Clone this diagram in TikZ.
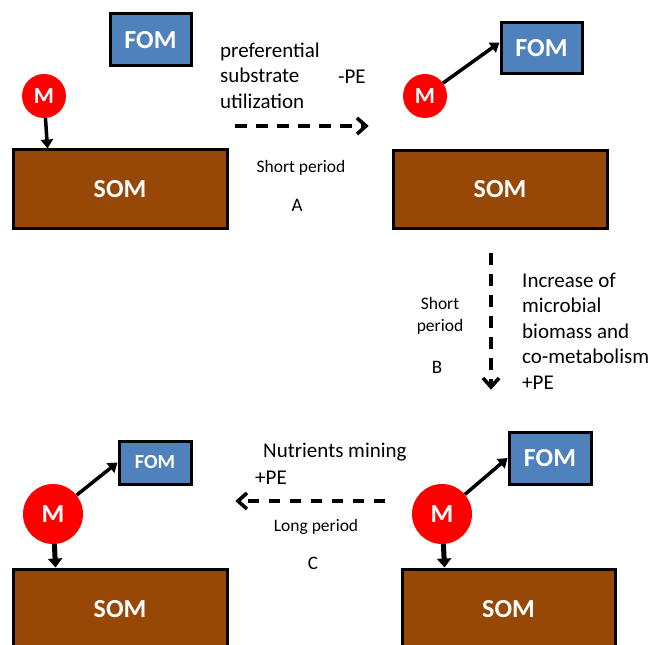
\documentclass[tikz,border=0pt]{standalone}
\usepackage{fontspec}
\setmainfont{Carlito}
\usetikzlibrary{arrows.meta,calc}
\definecolor{fomblue}{RGB}{79,129,189}
\definecolor{sombrown}{RGB}{151,71,6}
\definecolor{mred}{RGB}{255,0,0}
\tikzset{
  fombox/.style={draw=black,line width=3pt,fill=fomblue,text=white,font=\fontsize{26}{28}\selectfont\bfseries,inner sep=0pt},
  sombox/.style={draw=black,line width=3pt,fill=sombrown,text=white,font=\fontsize{26}{28}\selectfont\bfseries,inner sep=0pt,minimum width=214pt},
  mcirc/.style={circle,fill=mred,text=white,font=\fontsize{23}{26}\selectfont\bfseries,inner sep=0pt},
  solidarr/.style={line width=3.5pt,-{Triangle[length=9pt,width=12pt]}},
  thickarr/.style={line width=5pt,-{Triangle[length=9pt,width=14pt]}},
  dashline/.style={line width=3.6pt,dash pattern=on 11.5pt off 9.5pt},
  chevron/.style={solid,line width=3.6pt,line join=miter,miter limit=10},
  bodytxt/.style={font=\fontsize{21}{25.5}\selectfont,inner sep=0pt},
  smalltxt/.style={font=\fontsize{17.5}{22}\selectfont,inner sep=0pt},
  lettertxt/.style={font=\fontsize{19}{20}\selectfont,inner sep=0pt}
}
\begin{document}
\begin{tikzpicture}[x=1pt,y=-1pt]
\useasboundingbox (0,0) rectangle (652,644);
\fill[white] (0,0) rectangle (652,644);
\clip (0,0) rectangle (652,644);

% Panel A (top left)
\node[fombox,minimum width=81pt,minimum height=52pt] (ftl) at (150.5,40) {FOM};
\node[sombox,minimum height=78pt] (stl) at (120,189) {SOM};
\node[mcirc,minimum size=44pt] (mtl) at (44,96) {M};
\draw[solidarr] (mtl) -- ([xshift=36pt]stl.north west);

% Panel top right
\node[fombox,minimum width=81pt,minimum height=51pt] (ftr) at (541.5,48.5) {FOM};
\node[sombox,minimum height=77pt] (str) at (500,189.5) {SOM};
\node[mcirc,minimum size=44pt] (mtr) at (425,96) {M};
\draw[solidarr] (mtr) -- ([yshift=6pt]ftr.west);

% Panel bottom left
\node[fombox,minimum width=72pt,minimum height=43pt,font=\fontsize{20}{22}\selectfont\bfseries] (fbl) at (155,462.5) {FOM};
\node[sombox,minimum height=80pt] (sbl) at (120,609) {SOM};
\node[mcirc,minimum size=60pt,font=\fontsize{26}{28}\selectfont\bfseries] (mbl) at (53,514) {M};
\draw[solidarr] (mbl) -- (fbl.west);
\draw[thickarr] (mbl) -- ([xshift=44pt]sbl.north west);

% Panel bottom right
\node[fombox,minimum width=82pt,minimum height=52pt] (fbr) at (550,458) {FOM};
\node[sombox,minimum height=80pt,minimum width=213pt] (sbr) at (508.5,609) {SOM};
\node[mcirc,minimum size=60pt,font=\fontsize{26}{28}\selectfont\bfseries] (mbr) at (442,514) {M};
\draw[solidarr] (mbr) -- (fbr.west);
\draw[thickarr] (mbr) -- ([xshift=44pt]sbr.north west);

% Transition A
\coordinate (a1) at (235,126);
\coordinate (a2) at (366,126);
\draw[dashline] (a1) -- (a2);
\draw[chevron] ($(a2)+(-9,-8)$) -- (a2) -- ($(a2)+(-9,8)$);
\node[bodytxt,anchor=west,align=left] (pref) at (220,75.5) {preferential\\substrate\\utilization};
\node[bodytxt,anchor=west] (mpe) at (338,77) {-PE};
\node[smalltxt] (spa) at (301,168) {Short period};
\node[lettertxt] (la) at (297,205) {A};

% Transition B
\coordinate (b1) at (491,253);
\coordinate (b2) at (491,387);
\draw[dashline] (b1) -- (b2);
\draw[chevron] ($(b2)+(-8,-9)$) -- (b2) -- ($(b2)+(8,-9)$);
\node[smalltxt,align=center] (spb) at (440,316) {Short\\period};
\node[lettertxt] (lb) at (437,367) {B};
\node[bodytxt,anchor=west,align=left] (inc) at (522,331) {Increase of\\microbial\\biomass and\\co-metabolism\\+PE};

% Transition C
\coordinate (c1) at (385,501);
\coordinate (c2) at (238,501);
\draw[dashline] (c1) -- (c2);
\draw[chevron] ($(c2)+(9,-8)$) -- (c2) -- ($(c2)+(9,8)$);
\node[bodytxt,anchor=west] (nm) at (263,452) {Nutrients mining};
\node[bodytxt,anchor=west] (ppe) at (255,478) {+PE};
\node[smalltxt] (lp) at (316,527) {Long period};
\node[lettertxt] (lc) at (313,563) {C};
\end{tikzpicture}
\end{document}
